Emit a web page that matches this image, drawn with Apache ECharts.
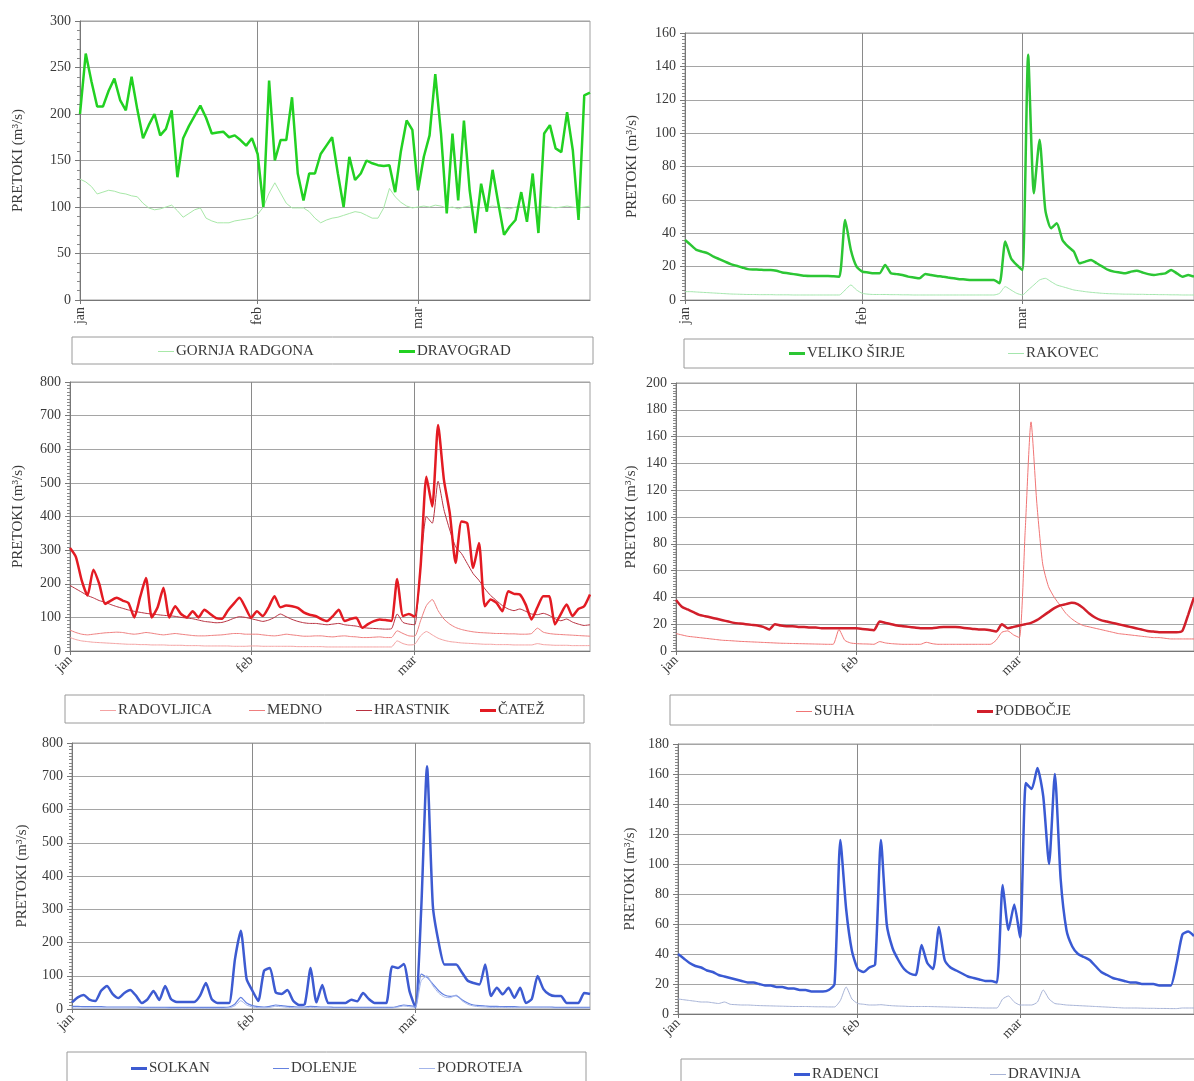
<!DOCTYPE html>
<html><head><meta charset="utf-8">
<script src="https://cdn.jsdelivr.net/npm/echarts@6/dist/echarts.min.js"></script>
<style>html,body{margin:0;padding:0;background:#fff}#c{width:1194px;height:1081px}</style>
</head><body><div id="c"></div>
<script>
// ---- categories / ticks ----
const MONTH_LABELS = ['jan', 'feb', 'mar'];
const MONTH_LENGTHS = [31, 28, 31];
const MONTH_START = [0, 31, 59];
const DAYS = [];
MONTH_LENGTHS.forEach((n, m) => { for (let d = 1; d <= n; d++) DAYS.push(d + '.' + (m + 1) + '.'); });

// ---- series values (m3/s), daily, 1 Jan - 31 Mar ----
const GORNJA_RADGONA = [130,127,122,114,116,118,117,115,114,112,
111,104,99,97,98,100,102,96,89,93,
97,99,88,85,83,83,83,85,86,87,
88,92,100,115,126,115,104,99,99,99,
95,88,83,86,88,89,91,93,95,94,
91,88,88,99,120,111,105,101,99,100,
101,100,102,101,99,100,98,100,101,100,
99,100,101,100,99,98,100,101,100,99,
100,101,100,99,100,101,100,99,100,101];
const DRAVOGRAD = [200,265,235,208,208,225,238,215,204,240,
205,174,188,200,177,184,204,132,174,187,
198,209,196,179,180,181,175,177,172,166,
174,157,100,236,150,172,172,218,136,107,
136,136,157,166,175,136,100,154,129,136,
150,147,145,144,145,116,160,193,183,118,
154,177,243,179,93,179,107,193,118,72,
125,95,140,104,70,79,86,116,84,136,
72,179,188,163,159,202,161,86,220,223];
const VELIKO_SIRJE = [36,33,30,29,28,26,24.5,23,21.5,20.5,
19.5,18.5,18.3,18.2,18,18,17.5,16.5,16,15.5,
15,14.5,14.4,14.4,14.4,14.4,14.2,14,48,30,
20,17,16.5,16,16,21,16,15.5,15,14,
13.5,13,15.6,15,14.4,14,13.5,13,12.5,12.3,
12,12,12,12,12,10,35,25,21,18,
147,64,96,54,43,46,36,32,29,22,
23,24,22,20,18,17,16.5,16,17,17.6,
16.5,15.5,15,15.5,16,18,16,14,15,14];
const RAKOVEC = [5,5,4.8,4.6,4.4,4.2,4,3.8,3.6,3.5,
3.4,3.3,3.3,3.2,3.2,3.2,3.1,3.1,3.1,3,
3,3,3,3,3,3,3,3,6,9,
6,4,3.5,3.3,3.3,3.3,3.2,3.2,3.1,3.1,
3,3,3,3,3,3,3,3,3,3,
3,3,3,3,3,4,8,6,4,3,
6,9,12,13,11,9,8,7,6,5.5,
5,4.6,4.3,4,3.8,3.7,3.6,3.5,3.5,3.4,
3.4,3.3,3.3,3.2,3.2,3.1,3.1,3,3,3];
const RADOVLJICA = [40,34,30,28,26,25,24,23,22,21,
20,20,19,19,18,18,18,17,17,17,
16,16,16,15,15,15,15,15,14,14,
14,15,15,14,14,14,14,14,14,13,
13,13,13,13,12,12,12,12,12,12,
12,12,12,12,12,12,30,22,18,20,
45,58,48,38,32,28,26,24,23,22,
21,20,20,19,19,19,18,18,18,18,
22,19,18,17,17,17,16,16,16,16];
const MEDNO = [62,55,50,48,50,52,54,55,56,55,
52,50,52,55,53,50,48,50,52,50,
48,46,45,45,46,47,48,50,52,52,
50,50,50,48,46,45,47,50,48,46,
44,44,45,45,43,42,44,45,43,42,
40,40,41,42,40,40,60,52,45,44,
90,135,153,120,95,80,70,64,60,57,
55,54,53,52,52,51,51,50,50,52,
68,56,52,50,49,48,47,46,45,44];
const HRASTNIK = [195,185,175,165,158,150,145,138,132,127,
122,118,115,112,110,108,106,105,103,100,
98,96,92,88,86,84,85,90,97,102,
100,96,92,88,92,100,110,102,94,88,
84,82,82,80,78,80,82,78,76,74,
70,68,67,66,65,66,110,85,80,78,
250,400,380,505,420,360,310,290,260,230,
210,185,165,150,135,125,120,125,118,110,
108,112,106,96,90,95,86,80,76,78];
const CATEZ = [306,280,210,165,242,200,140,150,158,150,
143,100,160,217,100,130,188,100,133,110,
100,118,100,123,110,98,96,120,140,158,
130,99,118,104,130,163,130,135,133,128,
115,108,104,95,89,104,123,89,95,99,
69,80,89,94,92,89,214,104,110,102,
250,518,430,672,509,410,262,385,380,247,
321,133,153,143,118,178,170,168,138,94,
130,163,163,79,110,138,104,125,133,168];
const SUHA = [13,12,11,10.5,10,9.5,9,8.5,8,7.8,
7.5,7.2,7,6.8,6.6,6.4,6.2,6,5.8,5.7,
5.6,5.5,5.4,5.3,5.2,5.1,5,5,16,8,
6,5.5,5.3,5.2,5,7,6,5.5,5.2,5,
5,5,5,6.5,5.5,5,5,5,5,5,
5,5,5,5,5,8,14,15,12,10,
90,171,110,65,48,40,34,28,24,21,
19,18,17,16,15,14,13,12.5,12,11.5,
11,10.5,10,10,9.5,9,9,9,9,9];
const PODBOCJE = [38,33,31,29,27,26,25,24,23,22,
21,20.5,20,19.5,19,18,16,20,19,18.5,
18.5,18,18,17.5,17.5,17,17,17,17,17,
17,17,16.5,16,15.5,22,21,20,19,18.5,
18,17.5,17,17,17,17.5,18,18,18,17.5,
17,16.5,16,16,15.5,14.5,20,17,18,19,
20,21,23,26,29,32,34,35,36,35,
32,28,25,23,22,21,20,19,18,17,
16,15,14.5,14,14,14,14,15,27,40];
const SOLKAN = [20,35,42,28,24,55,69,45,33,48,
57,40,18,30,54,27,69,30,21,21,
21,21,40,78,30,18,18,18,150,235,
90,55,24,115,123,50,45,57,25,12,
15,123,20,72,18,18,18,18,28,23,
48,30,18,18,18,128,123,135,53,5,
300,730,310,200,134,134,134,110,85,78,
74,134,39,64,44,64,34,64,18,30,
99,60,44,39,39,18,18,18,48,45];
const DOLENJE = [8,8,7,7,7,7,6,6,6,6,
6,6,5,5,5,5,5,5,5,5,
5,5,5,5,5,5,5,6,15,35,
18,10,7,6,8,12,10,8,7,6,
6,8,7,6,6,5,5,5,5,5,
5,5,5,5,5,5,8,12,10,8,
105,95,75,55,42,38,40,28,18,12,
10,9,8,8,7,7,7,6,6,6,
6,6,6,5,5,5,5,5,5,5];
const PODROTEJA = [3,3,3,3,3,3,3,3,3,3,
3,3,3,3,3,3,3,2,2,2,
2,2,2,2,2,2,2,3,10,25,
12,6,4,3,5,8,7,5,4,3,
3,5,4,3,3,3,3,3,3,3,
3,3,3,3,3,3,6,9,7,5,
85,100,70,48,36,34,42,25,14,9,
7,6,5,5,5,4,4,4,4,4,
4,4,4,3,3,3,3,3,3,3];
const RADENCI = [40,37,34,32,31,29,28,26,25,24,
23,22,21,21,20,19,19,18,18,17,
17,16,16,15,15,15,16,20,116,70,
42,30,28,31,33,116,60,44,36,30,
27,26,46,34,30,58,36,31,29,27,
25,24,23,22,22,21,86,56,73,51,
154,150,164,145,100,160,90,56,45,40,
38,36,32,28,26,24,23,22,21,21,
20,20,20,19,19,19,34,53,55,52];
const DRAVINJA = [10,9.5,9,8.5,8,8,7.5,7,8,6.5,
6.2,6,6,5.8,5.6,5.5,5.4,5.3,5.2,5.1,
5,5,5,4.9,4.8,4.8,4.7,4.7,9,18,
10,7,6.5,6,6,6.2,5.8,5.5,5.3,5.2,
5,5,5,5,4.9,4.8,4.7,4.6,4.5,4.4,
4.3,4.2,4.1,4,4,4,10,12,8,6,
6,6,8,16,10,7,6.5,6,5.8,5.6,
5.4,5.2,5,4.8,4.6,4.4,4.2,4,4,4,
3.9,3.8,3.8,3.7,3.7,3.6,3.6,4,4,4];

// ---- layout / styling ----
const FONT = '"Liberation Serif", "Times New Roman", serif';
const TXT = '#3a3a3a';
const PANELS = [
  { grid: {left: 80, top: 21, width: 510, height: 279}, max: 300, interval: 50, minor: 5, nameGap: 54, rotate: 90, smooth: false,
    box: [72, 337, 521, 27],
    series: [
      {name: 'GORNJA RADGONA', data: GORNJA_RADGONA, color: '#a8e8a8', width: 1, leg: [158, 351]},
      {name: 'DRAVOGRAD', data: DRAVOGRAD, color: '#22d122', width: 2.5, leg: [399, 351]}]},
  { grid: {left: 685, top: 33, width: 521, height: 267}, max: 160, interval: 20, minor: 10, nameGap: 45, rotate: 90, smooth: 0.2,
    box: [684, 339, 530, 29],
    series: [
      {name: 'VELIKO ŠIRJE', data: VELIKO_SIRJE, color: '#2cc634', width: 2.5, leg: [789, 353]},
      {name: 'RAKOVEC', data: RAKOVEC, color: '#a4e6ad', width: 1, leg: [1008, 353]}]},
  { grid: {left: 70, top: 382, width: 520, height: 269}, max: 800, interval: 100, minor: 10, nameGap: 44, rotate: 45, smooth: 0.2,
    box: [65, 695, 519, 28],
    series: [
      {name: 'RADOVLJICA', data: RADOVLJICA, color: '#f4a3a3', width: 1, leg: [100, 710]},
      {name: 'MEDNO', data: MEDNO, color: '#ef7f7f', width: 1, leg: [249, 710]},
      {name: 'HRASTNIK', data: HRASTNIK, color: '#b8303f', width: 1, leg: [356, 710]},
      {name: 'ČATEŽ', data: CATEZ, color: '#e31b23', width: 2.5, leg: [480, 710]}]},
  { grid: {left: 676, top: 383, width: 521, height: 268}, max: 200, interval: 20, minor: 10, nameGap: 37, rotate: 45, smooth: 0.2,
    box: [670, 695, 540, 30],
    series: [
      {name: 'SUHA', data: SUHA, color: '#f07575', width: 1, leg: [796, 711]},
      {name: 'PODBOČJE', data: PODBOCJE, color: '#d11f2b', width: 2.5, leg: [977, 711]}]},
  { grid: {left: 72, top: 743, width: 518, height: 266}, max: 800, interval: 100, minor: 10, nameGap: 42, rotate: 45, smooth: 0.2,
    box: [67, 1052, 519, 40],
    series: [
      {name: 'SOLKAN', data: SOLKAN, color: '#3d5bd1', width: 2.5, leg: [131, 1068]},
      {name: 'DOLENJE', data: DOLENJE, color: '#6482e0', width: 1.2, leg: [273, 1068]},
      {name: 'PODROTEJA', data: PODROTEJA, color: '#a3b5ea', width: 1, leg: [419, 1068]}]},
  { grid: {left: 678, top: 744, width: 521, height: 270}, max: 180, interval: 20, minor: 10, nameGap: 40, rotate: 45, smooth: 0.2,
    box: [681, 1059, 540, 40],
    series: [
      {name: 'RADENCI', data: RADENCI, color: '#3a5ad3', width: 2.5, leg: [794, 1074]},
      {name: 'DRAVINJA', data: DRAVINJA, color: '#a7b3d6', width: 1, leg: [990, 1074]}]}
];

const isMonth = (i) => MONTH_START.indexOf(i) >= 0;
const option = {animation: false, backgroundColor: '#fff', grid: [], xAxis: [], yAxis: [], series: [], legend: [], graphic: []};

PANELS.forEach((p, k) => {
  option.grid.push(Object.assign({show: true, borderColor: '#a0a0a0', borderWidth: 1, backgroundColor: 'transparent'}, p.grid));
  option.xAxis.push({
    type: 'category', gridIndex: k, data: DAYS, boundaryGap: false,
    axisLine: {show: true, lineStyle: {color: '#777', width: 1}},
    axisTick: {show: true, interval: isMonth, length: 4, lineStyle: {color: '#777'}},
    axisLabel: {interval: isMonth, rotate: p.rotate, margin: 7, fontFamily: FONT, fontSize: 14, color: TXT,
      formatter: (v, i) => MONTH_LABELS[MONTH_START.indexOf(i)] || ''},
    splitLine: {show: true, interval: isMonth, lineStyle: {color: '#8a8a8a', width: 1}}
  });
  option.yAxis.push({
    type: 'value', gridIndex: k, min: 0, max: p.max, interval: p.interval,
    name: 'PRETOKI (m³/s)', nameLocation: 'middle', nameGap: p.nameGap,
    nameTextStyle: {fontFamily: FONT, fontSize: 15, color: TXT},
    axisLine: {show: true, lineStyle: {color: '#777', width: 1}},
    axisTick: {show: true, length: 5, lineStyle: {color: '#777'}},
    minorTick: {show: true, splitNumber: p.minor, length: 3, lineStyle: {color: '#888'}},
    splitLine: {show: true, lineStyle: {color: '#a5a5a5', width: 1}},
    axisLabel: {fontFamily: FONT, fontSize: 14, color: TXT, margin: 9}
  });
  option.graphic.push({type: 'rect', z: 0, silent: true,
    shape: {x: p.box[0], y: p.box[1], width: p.box[2], height: p.box[3]},
    style: {fill: '#fff', stroke: '#9a9a9a', lineWidth: 1}});
  p.series.forEach(s => {
    option.series.push({
      type: 'line', name: s.name, xAxisIndex: k, yAxisIndex: k, data: s.data,
      symbol: 'none', showSymbol: false, smooth: p.smooth,
      itemStyle: {color: s.color}, lineStyle: {color: s.color, width: s.width}
    });
    option.legend.push({
      data: [s.name], left: s.leg[0], top: s.leg[1] - 7, padding: 0, itemGap: 0,
      icon: 'rect', itemWidth: 16, itemHeight: s.width > 2 ? 3 : 1,
      itemStyle: {borderWidth: 0},
      textStyle: {fontFamily: FONT, fontSize: 15, color: TXT, padding: [0, 0, 0, -3]}
    });
  });
});

const chart = echarts.init(document.getElementById('c'), null, {renderer: 'canvas'});
chart.setOption(option);
</script>
</body></html>
